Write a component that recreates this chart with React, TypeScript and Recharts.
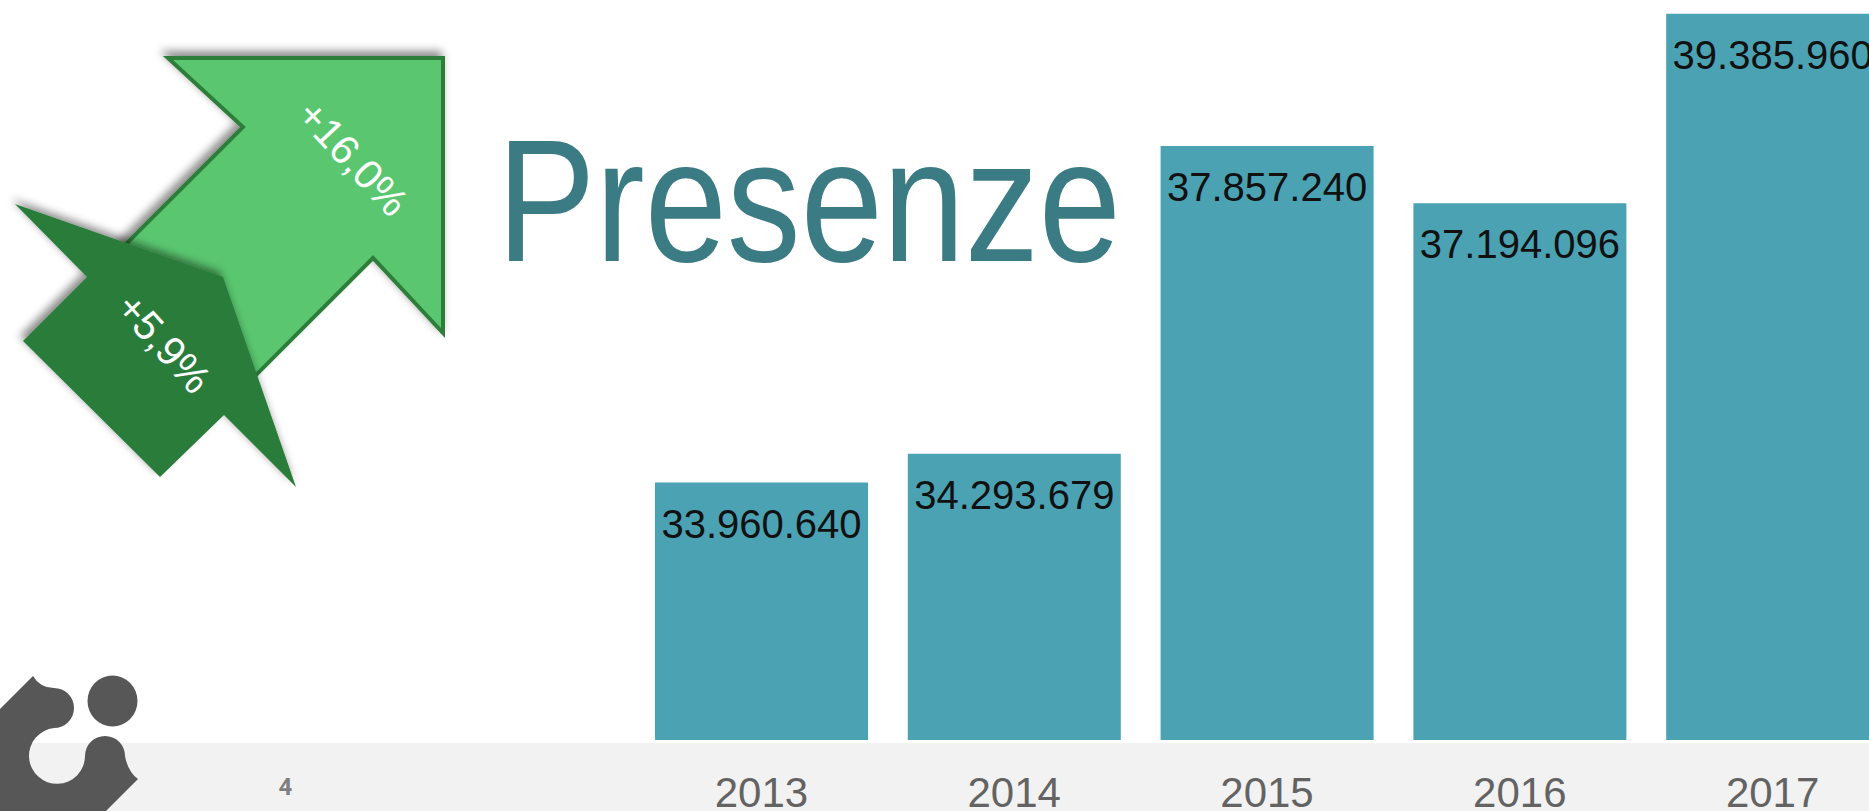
import React from "react";
import { Bar, BarChart, LabelList, XAxis, YAxis } from "recharts";

const years = ["2013", "2014", "2015", "2016", "2017"];
const presenze = [33960640, 34293679, 37857240, 37194096, 39385960];
const growthLabels = ["+16,0%", "+5,9%"];
const title = "Presenze";
const pageNumber = "4";

const W = 1869;
const H = 811;

const data = years.map((year, i) => ({ year, presenze: presenze[i] }));

// italian thousands separator
const fmt = (v: number) => String(v).replace(/\B(?=(\d{3})+(?!\d))/g, ".");

function YearTick(props: any) {
  const { x, y, payload } = props;
  return (
    <text
      x={x}
      y={y}
      dy={67}
      textAnchor="middle"
      fontSize={42}
      fontFamily="'Liberation Sans', Arial, sans-serif"
      fill="#636363"
    >
      {payload.value}
    </text>
  );
}

function ValueLabel(props: any) {
  const vb = props.viewBox || {};
  const x = props.x ?? vb.x;
  const y = props.y ?? vb.y;
  const width = props.width ?? vb.width;
  return (
    <text
      x={x + width / 2}
      y={y + 55}
      textAnchor="middle"
      fontSize={40}
      fontFamily="'Liberation Sans', Arial, sans-serif"
      fill="#111"
    >
      {fmt(Number(props.value))}
    </text>
  );
}

export default function App() {
  return (
    <div
      style={{
        position: "absolute",
        left: 0,
        top: 0,
        width: W,
        height: H,
        overflow: "hidden",
        background: "#fff",
      }}
    >
      <div style={{ position: "absolute", left: 0, top: 743, width: W, height: 68, background: "#f2f2f2" }} />
      <div style={{ position: "absolute", left: 0, top: 0 }}>
        <BarChart
          width={1899}
          height={H}
          data={data}
          margin={{ top: 4, right: 0, left: 635, bottom: 0 }}
          barCategoryGap={20}
        >
          <XAxis
            dataKey="year"
            axisLine={false}
            tickLine={false}
            tickSize={0}
            tickMargin={0}
            height={71}
            interval={0}
            tick={<YearTick />}
          />
          <YAxis hide domain={[30980000, 39500000]} />
          <Bar dataKey="presenze" fill="#4ba2b3" isAnimationActive={false}>
            <LabelList dataKey="presenze" content={<ValueLabel />} />
          </Bar>
        </BarChart>
      </div>
      <svg
        width={W}
        height={H}
        style={{ position: "absolute", left: 0, top: 0, pointerEvents: "none" }}
      >
        <defs>
          <filter id="shadow" x="-20%" y="-20%" width="140%" height="140%">
            <feDropShadow dx={-3} dy={-5} stdDeviation={4} floodColor="#000" floodOpacity={0.45} />
          </filter>
        </defs>

        {/* title, squeezed to the width of the original lettering */}
        <text
          transform="translate(497,261) scale(0.844,1)"
          fontSize={175}
          fill="#3b7b83"
          fontFamily="'Liberation Sans', Arial, sans-serif"
        >
          {title}
        </text>

        {/* growth arrows */}
        <path
          d="M 168 58 L 443 58 L 443 333 L 373 258 L 233 398 L 103 267 L 243 127 Z"
          fill="#5ac770"
          stroke="#2e7d3a"
          strokeWidth={4}
          filter="url(#shadow)"
        />
        <text
          transform="translate(353,158) rotate(47)"
          textAnchor="middle"
          dy="0.35em"
          fontSize={41}
          fill="#fff"
          fontFamily="'Liberation Sans', Arial, sans-serif"
        >
          {growthLabels[0]}
        </text>
        <path
          d="M 15 204 L 223 277 L 296 487 L 224 415 L 160 477 L 23 341 L 87 277 Z"
          fill="#2a7b3b"
          filter="url(#shadow)"
        />
        <text
          transform="translate(164,343) rotate(48)"
          textAnchor="middle"
          dy="0.35em"
          fontSize={41}
          fill="#fff"
          fontFamily="'Liberation Sans', Arial, sans-serif"
        >
          {growthLabels[1]}
        </text>

        {/* logo */}
        <path
          d="M 33 676 Q 40 688 54 688 A 20 20 0 0 1 54 728 A 28 28 0 1 0 85 756 A 20 20 0 0 1 125 756 Q 128 772 138 779 L 100 817 L -5 817 L -5 714 Z"
          fill="#575757"
        />
        <ellipse cx={112.5} cy={701} rx={25} ry={25.5} fill="#575757" />

        <text
          x={285.5}
          y={795}
          textAnchor="middle"
          fontSize={24}
          fontWeight="bold"
          fill="#7f7f7f"
          fontFamily="Roboto, sans-serif"
        >
          {pageNumber}
        </text>
      </svg>
    </div>
  );
}
